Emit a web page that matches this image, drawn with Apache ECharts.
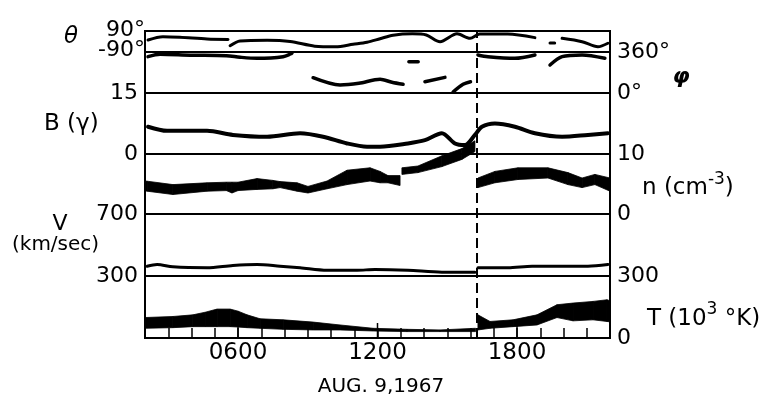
<!DOCTYPE html>
<html>
<head>
<meta charset="utf-8">
<script src="https://cdn.jsdelivr.net/npm/echarts@6/dist/echarts.min.js"></script>
<style>
  html, body { margin: 0; padding: 0; background: #fff; }
  #chart { width: 764px; height: 401px; }
</style>
</head>
<body>
<div id="chart"></div>
<script>
// hours (UT) on AUG. 9, 1967; null value = gap in the trace
const hourTicks = [6, 12, 18];
const shockHour = 16.28;

// field latitude theta (deg)
const thetaTime = [2.13, 2.77, 3.5, 4.67, 5.57, 5.6, 5.66, 6.09, 7.25, 8.24, 9.3, 10.2, 10.95, 11.55, 12.11, 12.67, 13.5, 14.1, 14.69, 15.42, 15.98, 16.4, 17.6, 18.77, 19.1, 19.42, 19.62, 19.8, 19.94, 20.8, 21.48, 21.91];
const thetaVal  = [13, 41, 36, 21, 17, null, -36, 5, 10, 0, -40, -46, -24, -6, 24, 54, 66, 56, -2, 66, 27, 64, 64, 33, null, -13, -13, null, 27, -2, -45, -15];

// field longitude phi (deg)
const phiTime = [2.13, 2.65, 3.94, 5.5, 6.09, 6.82, 7.94, 8.32, 8.5, 9.23, 10.39, 11.2, 12.11, 12.62, 13.1, 13.2, 13.35, 13.75, 13.9, 14.04, 14.9, 15.1, 15.25, 15.68, 16.0, 16.2, 16.32, 16.75, 17.91, 18.77, 19.2, 19.42, 19.94, 20.8, 21.78];
const phiVal  = [319, 340, 332, 327, 314, 305, 319, 349, null, 134, 70, 85, 121, 94, 76, null, 275, 275, null, 99, 137, null, 8, 76, 99, null, 334, 319, 305, 334, null, 246, 319, 334, 305];

// field magnitude B (gamma)
const bTime = [2.13, 2.95, 4.67, 5.78, 7.25, 8.67, 9.66, 10.69, 11.55, 12.11, 13.31, 14.04, 14.77, 15.33, 15.76, 16.19, 16.49, 17.05, 17.91, 18.77, 19.94, 21.05, 21.91];
const bVal  = [6.7, 5.7, 5.7, 4.7, 4.25, 5.1, 4.25, 2.6, 1.8, 1.8, 2.6, 3.4, 5.1, 2.6, 2.2, 4.7, 6.7, 7.5, 6.7, 5.1, 4.25, 4.7, 5.1];

// proton density n (cm^-3), band low / high
const nTime = [2.0, 2.09, 3.2, 4.67, 5.5, 5.74, 6.0, 6.82, 7.5, 7.81, 8.54, 9.01, 9.83, 10.69, 11.68, 12.11, 12.45, 12.97, 13.0, 13.05, 13.74, 14.77, 15.63, 16.19, 16.25, 16.32, 17.05, 18.04, 19.33, 20.19, 20.8, 21.35, 22.0];
const nLow  = [3.9, 3.8, 3.25, 3.8, 3.9, 3.5, 3.9, 4.1, 4.2, 4.4, 3.8, 3.5, 4.2, 4.9, 5.5, 5.2, 5.2, 4.75, null, 6.6, 6.9, 7.9, 9.1, 10.4, null, 4.4, 5.2, 5.75, 6.0, 4.9, 4.4, 4.9, 3.8];
const nHigh = [5.5, 5.47, 4.9, 5.2, 5.3, 5.3, 5.3, 5.9, 5.6, 5.4, 5.2, 4.6, 5.5, 7.3, 7.7, 7.1, 6.4, 6.4, null, 7.7, 8.0, 9.7, 10.9, 12.2, null, 6.0, 7.1, 7.7, 7.7, 6.9, 6.0, 6.6, 6.0];

// bulk speed V (km/sec)
const vTime = [2.09, 2.52, 3.2, 4.67, 5.78, 6.82, 7.81, 8.67, 9.83, 11.12, 11.89, 13.31, 14.77, 16.19, 16.25, 16.32, 17.61, 18.65, 19.94, 21.05, 21.91];
const vVal  = [363, 374, 359, 353, 368, 374, 363, 353, 337, 337, 342, 337, 325, 325, null, 353, 353, 363, 363, 363, 374];

// proton temperature T (10^3 K), band low / high
const tTime = [2.0, 3.2, 4.06, 4.6, 5.1, 5.66, 6.0, 6.39, 6.95, 7.94, 9.23, 10.39, 11.81, 13.27, 14.69, 16.22, 16.25, 16.32, 16.84, 17.83, 18.86, 19.72, 20.41, 21.27, 21.87, 22.0];
const tLow  = [47, 50, 55, 55, 55, 55, 53, 50, 47, 42, 39, 39, 34, 31, 31, 31, null, 39, 47, 55, 63, 99, 83, 88, 80, 78];
const tHigh = [99, 104, 112, 125, 140, 140, 130, 112, 93, 88, 77, 63, 47, 42, 39, 47, null, 112, 80, 88, 112, 161, 169, 177, 185, 180];

const FONT = '"DejaVu Sans", sans-serif';
const tops = [31, 52, 93, 154, 214, 276];
const heights = [21, 41, 61, 60, 62, 62];

const grids = tops.map((t, i) => ({
  left: 145, width: 465, top: t, height: heights[i],
  show: true, borderColor: '#000', borderWidth: 2, backgroundColor: 'transparent',
  containLabel: false, outerBoundsMode: 'none'
}));
grids.push({ left: 145, width: 465, top: 31, height: 307, show: false, containLabel: false, outerBoundsMode: 'none' });

const RICH = {
  a: { fontSize: 22, fontFamily: FONT, color: '#000', padding: [0, 0, 1, 0] },
  b: { fontSize: 22, fontFamily: FONT, color: '#000', padding: [0, 0, 4, 0] }
};

function yAx(i, min, max, interval, pos, labels, margin) {
  return {
    gridIndex: i, type: 'value', min: min, max: max, interval: interval, position: pos,
    axisLine: { show: false }, axisTick: { show: false }, splitLine: { show: false },
    axisLabel: {
      show: true, margin: margin, showMinLabel: true, showMaxLabel: true, hideOverlap: false,
      color: '#000', fontFamily: FONT, fontSize: 22,
      formatter: function (v) { return labels[v] !== undefined ? labels[v] : ''; },
      rich: RICH
    }
  };
}

const yAxes = [
  yAx(0, -90, 90, 90, 'left', { 90: '{a|90°}', '-90': '{b|-90°}' }, 0),
  yAx(1, 0, 360, 360, 'right', { 360: '360°', 0: '0°' }, 7),
  yAx(2, 0, 15, 15, 'left', { 15: '15', 0: '0' }, 7),
  yAx(3, 0, 10, 10, 'right', { 10: '10', 0: '0' }, 7),
  yAx(4, 300, 700, 100, 'left', { 700: '700', 300: '300' }, 7),
  yAx(5, 0, 300, 300, 'right', { 300: '300', 0: '0' }, 7),
  { gridIndex: 6, type: 'value', min: 0, max: 1, show: false }
];

const xAxes = [];
for (let i = 0; i < 7; i++) {
  xAxes.push({ gridIndex: i, type: 'value', min: 2, max: 22, show: false });
}
xAxes[5] = {
  gridIndex: 5, type: 'value', min: 2, max: 22, interval: 1,
  axisLine: { show: true, lineStyle: { color: '#000', width: 2 } },
  axisTick: { show: true, inside: true, length: 10, lineStyle: { color: '#000', width: 1.5 } },
  splitLine: { show: false },
  axisLabel: {
    interval: 0, margin: 4, color: '#000', fontFamily: FONT, fontSize: 23, hideOverlap: false,
    formatter: function (v) {
      const h = Math.round(v);
      return hourTicks.indexOf(h) >= 0 ? String(h * 100).padStart(4, '0') : '';
    }
  }
};

function trace(grid, times, vals, width) {
  return {
    type: 'line', xAxisIndex: grid, yAxisIndex: grid,
    data: times.map((t, i) => [t, vals[i] == null ? '-' : vals[i]]),
    showSymbol: false, symbol: 'none', smooth: 0.3, connectNulls: false, clip: false,
    lineStyle: { color: '#000', width: width, cap: 'round', join: 'round' },
    silent: true, animation: false, z: 3
  };
}

function band(grid, times, lo, hi) {
  return {
    type: 'custom', xAxisIndex: grid, yAxisIndex: grid, clip: false, silent: true, z: 3,
    data: times.map((t, i) => [t, lo[i] == null ? 0 : lo[i], hi[i] == null ? 0 : hi[i]]),
    renderItem: function (params, api) {
      const i = params.dataIndex;
      if (i >= times.length - 1 || lo[i] == null || lo[i + 1] == null) return null;
      const pts = [
        api.coord([times[i], hi[i]]),
        api.coord([times[i + 1], hi[i + 1]]),
        api.coord([times[i + 1], lo[i + 1]]),
        api.coord([times[i], lo[i]])
      ];
      return { type: 'polygon', shape: { points: pts }, style: { fill: '#000', stroke: '#000', lineWidth: 0.8 } };
    }
  };
}

const series = [
  trace(0, thetaTime, thetaVal, 3),
  trace(1, phiTime, phiVal, 3.5),
  trace(2, bTime, bVal, 4),
  band(3, nTime, nLow, nHigh),
  trace(4, vTime, vVal, 3),
  band(5, tTime, tLow, tHigh),
  {
    type: 'custom', xAxisIndex: 5, yAxisIndex: 5, clip: false, silent: true, z: 4,
    data: hourTicks.map(h => [h, 0]),
    renderItem: function (params, api) {
      const p = api.coord([api.value(0), 0]);
      return { type: 'line', shape: { x1: p[0], y1: p[1], x2: p[0], y2: p[1] - 15 }, style: { stroke: '#000', lineWidth: 1.5 } };
    }
  },
  {
    type: 'line', xAxisIndex: 6, yAxisIndex: 6, data: [[shockHour, 0], [shockHour, 1]],
    showSymbol: false, symbol: 'none', silent: true, clip: false, z: 5,
    lineStyle: { color: '#000', width: 2, type: [10, 5] }
  }
];

function txt(x, y, text, font, align) {
  return {
    type: 'text', x: x, y: y, silent: true, z: 10,
    style: { text: text, font: font, fill: '#000', align: align || 'left', verticalAlign: 'middle', textAlign: align || 'left', textVerticalAlign: 'middle' }
  };
}

const supRich = function (pad) {
  return {
    b: { fontSize: 23, fontFamily: FONT, fill: '#000', color: '#000' },
    s: { fontSize: 17, fontFamily: FONT, fill: '#000', color: '#000', padding: [0, 0, pad, 0] }
  };
};

const graphic = [
  txt(71, 37, 'θ', 'oblique 23px ' + FONT, 'center'),
  txt(44, 124, 'B (γ)', '23px ' + FONT),
  txt(60, 224, 'V', '22px ' + FONT, 'center'),
  txt(12, 245, '(km/sec)', '20px ' + FONT),
  txt(681, 77, 'φ', 'oblique bold 22px ' + FONT, 'center'),
  {
    type: 'text', x: 642, y: 188, silent: true, z: 10,
    style: { text: '{b|n (cm}{s|-3}{b|)}', rich: supRich(16), font: '23px ' + FONT, fill: '#000', align: 'left', verticalAlign: 'middle', textAlign: 'left', textVerticalAlign: 'middle' }
  },
  {
    type: 'text', x: 647, y: 319, silent: true, z: 10,
    style: { text: '{b|T (10}{s|3}{b| °K)}', rich: supRich(18), font: '23px ' + FONT, fill: '#000', align: 'left', verticalAlign: 'middle', textAlign: 'left', textVerticalAlign: 'middle' }
  },
  txt(381, 387, 'AUG. 9,1967', '20px ' + FONT, 'center')
];

const chart = echarts.init(document.getElementById('chart'));
chart.setOption({
  animation: false,
  backgroundColor: '#fff',
  grid: grids,
  xAxis: xAxes,
  yAxis: yAxes,
  series: series,
  graphic: graphic
});
</script>
</body>
</html>
